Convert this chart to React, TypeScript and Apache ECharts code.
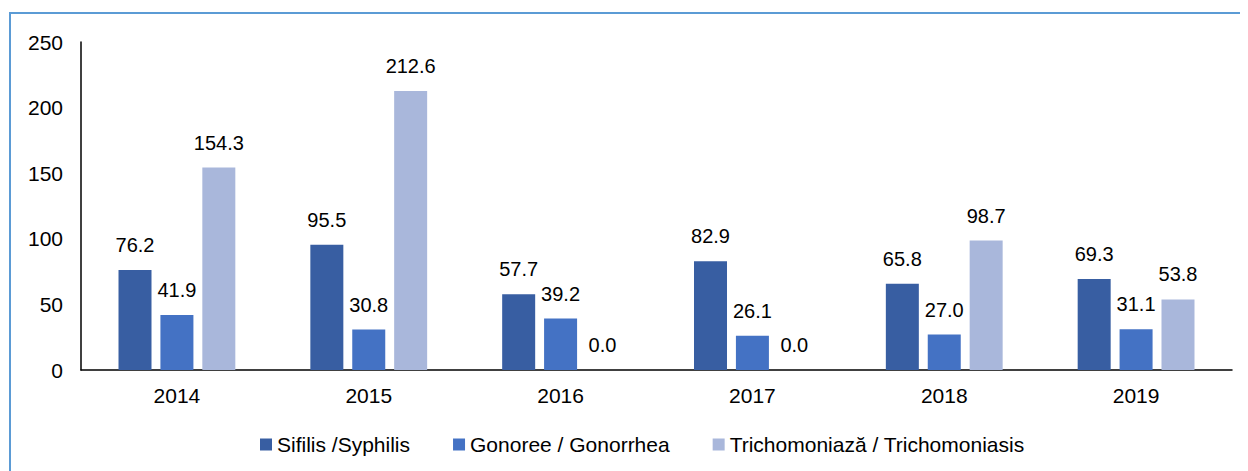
import React, { useEffect, useRef } from "react";
import * as echarts from "echarts";

const years = ["2014", "2015", "2016", "2017", "2018", "2019"];
const syphilis = [76.2, 95.5, 57.7, 82.9, 65.8, 69.3];
const gonorrhea = [41.9, 30.8, 39.2, 26.1, 27.0, 31.1];
const trichomoniasis = [154.3, 212.6, 0.0, 0.0, 98.7, 53.8];
const seriesNames = ["Sifilis /Syphilis", "Gonoree / Gonorrhea", "Trichomoniază / Trichomoniasis"];
const colors = ["#385EA2", "#4472C4", "#A9B7DB"];

export default function App() {
  const ref = useRef<HTMLDivElement>(null);
  useEffect(() => {
    if (!ref.current) return;
    const chart = echarts.init(ref.current, undefined, { renderer: "svg" });
    const font = "'Liberation Sans', Arial, sans-serif";
    const mk = (name: string, data: number[], color: string) => ({
      name,
      type: "bar",
      data,
      barWidth: 33,
      barGap: "27%",
      itemStyle: { color },
      label: {
        show: true,
        position: "top",
        distance: 15,
        color: "#000",
        fontSize: 20,
        fontFamily: font,
        formatter: (p: any) => Number(p.value).toFixed(1),
      },
    });
    chart.setOption({
      animation: false,
      textStyle: { fontFamily: font },
      graphic: [
        {
          type: "rect",
          shape: { x: 2, y: 5, width: 1400, height: 800 },
          style: { fill: "none", stroke: "#5B9BD5", lineWidth: 2 },
          silent: true,
        },
      ],
      grid: { left: 73, right: 16, top: 34, bottom: 101 },
      legend: {
        data: seriesNames,
        bottom: 11,
        left: 247,
        itemWidth: 12,
        itemHeight: 12,
        itemGap: 43,
        icon: "rect",
        textStyle: { fontSize: 21, color: "#000", fontFamily: font },
      },
      xAxis: {
        type: "category",
        data: years,
        axisLine: { lineStyle: { color: "#000", width: 1.5 } },
        axisTick: { show: false },
        axisLabel: { fontSize: 21, color: "#000", margin: 15, fontFamily: font },
      },
      yAxis: {
        type: "value",
        min: 0,
        max: 250,
        interval: 50,
        axisLine: { show: true, lineStyle: { color: "#000", width: 1.5 } },
        axisTick: { show: false },
        splitLine: { show: false },
        axisLabel: { fontSize: 21, color: "#000", margin: 18, fontFamily: font },
      },
      series: [
        mk(seriesNames[0], syphilis, colors[0]),
        mk(seriesNames[1], gonorrhea, colors[1]),
        mk(seriesNames[2], trichomoniasis, colors[2]),
      ],
    });
    return () => chart.dispose();
  }, []);
  return <div ref={ref} style={{ width: 1240, height: 463 }} />;
}
